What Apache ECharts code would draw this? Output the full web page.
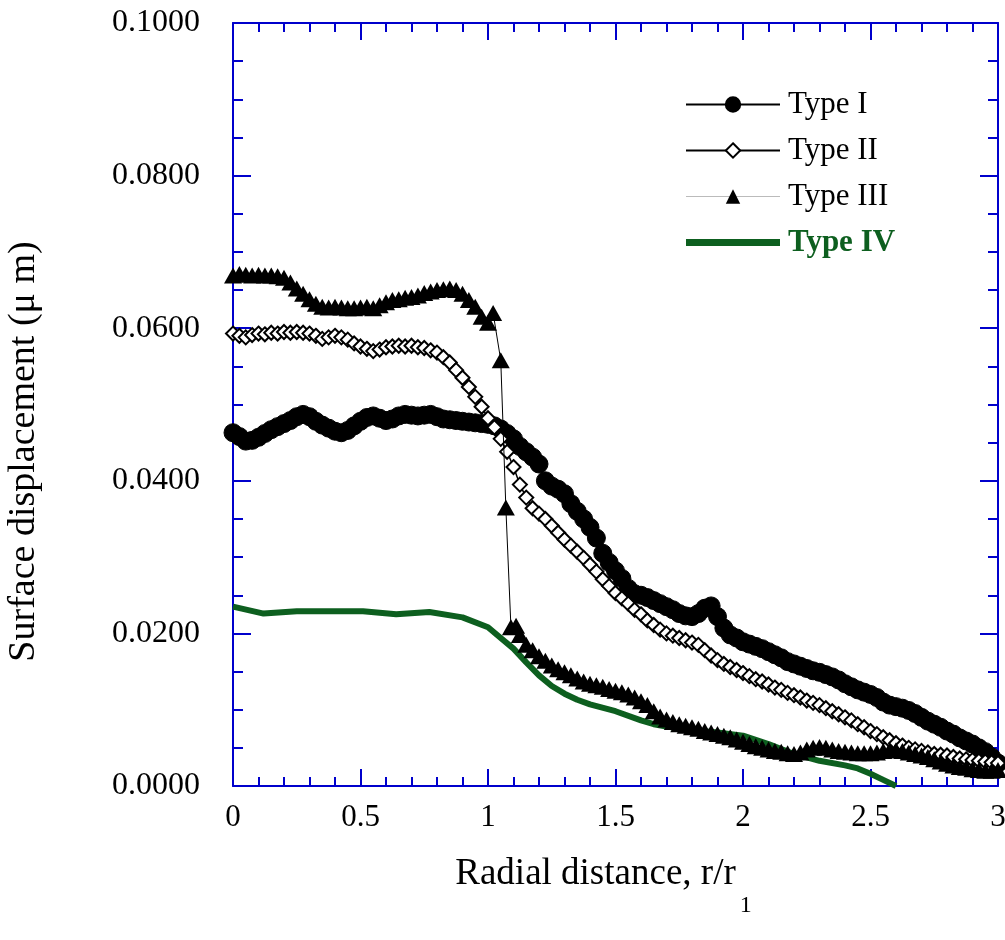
<!DOCTYPE html>
<html><head><meta charset="utf-8">
<script src="https://cdn.jsdelivr.net/npm/echarts@6/dist/echarts.min.js"></script>
<style>html,body{margin:0;padding:0;background:#fff}#c{width:1005px;height:940px}</style>
</head><body><div id="c"></div>
<script>
// x positions (r/r1) for Type I and Type II
const xGrid = [0,0.025,0.05,0.075,0.1,0.125,0.15,0.175,0.2,0.225,0.25,0.275,0.3,0.325,0.35,0.375,0.4,0.425,0.45,0.475,
0.5,0.525,0.55,0.575,0.6,0.625,0.65,0.675,0.7,0.725,0.75,0.775,0.8,0.825,0.85,0.875,0.9,0.925,0.95,0.975,
1.0,1.025,1.05,1.075,1.1,1.125,1.15,1.175,1.2,1.225,1.25,1.275,1.3,1.325,1.35,1.375,1.4,1.425,1.45,1.475,
1.5,1.525,1.55,1.575,1.6,1.625,1.65,1.675,1.7,1.725,1.75,1.775,1.8,1.825,1.85,1.875,1.9,1.925,1.95,1.975,
2.0,2.025,2.05,2.075,2.1,2.125,2.15,2.175,2.2,2.225,2.25,2.275,2.3,2.325,2.35,2.375,2.4,2.425,2.45,2.475,
2.5,2.525,2.55,2.575,2.6,2.625,2.65,2.675,2.7,2.725,2.75,2.775,2.8,2.825,2.85,2.875,2.9,2.925,2.95,2.975,3.0];

const typeI = [0.0463,0.0458,0.0452,0.0453,0.0457,0.0462,0.0467,0.0471,0.0475,0.0479,0.0484,0.0487,0.0484,0.0478,0.0473,0.0469,0.0465,0.0463,0.0466,0.0472,
0.0478,0.0483,0.0485,0.0482,0.0479,0.0481,0.0485,0.0487,0.0486,0.0485,0.0486,0.0487,0.0484,0.0481,0.0480,0.0479,0.0478,0.0477,0.0476,0.0475,
0.0474,0.0472,0.0468,0.0462,0.0455,0.0445,0.0438,0.0431,0.0422,0.0400,0.0393,0.0389,0.0383,0.0370,0.0360,0.0350,0.0339,0.0325,0.0305,0.0293,
0.0282,0.0272,0.0259,0.0252,0.0250,0.0247,0.0243,0.0239,0.0235,0.0231,0.0226,0.0223,0.0222,0.0226,0.0233,0.0236,0.0222,0.0207,0.0198,0.0194,
0.0189,0.0186,0.0183,0.0180,0.0176,0.0172,0.0168,0.0163,0.0160,0.0157,0.0154,0.0151,0.0149,0.0146,0.0143,0.0139,0.0134,0.0130,0.0126,0.0123,
0.0120,0.0116,0.0110,0.0106,0.0104,0.0102,0.0099,0.0095,0.0090,0.0085,0.0081,0.0077,0.0072,0.0068,0.0063,0.0059,0.0055,0.0050,0.0045,0.0038,0.0030];

const typeII = [0.0593,0.0590,0.0588,0.0591,0.0593,0.0592,0.0594,0.0593,0.0595,0.0594,0.0595,0.0594,0.0593,0.0590,0.0586,0.0588,0.0590,0.0588,0.0585,0.0580,
0.0576,0.0573,0.0570,0.0572,0.0575,0.0576,0.0577,0.0576,0.0577,0.0575,0.0574,0.0571,0.0568,0.0562,0.0555,0.0545,0.0535,0.0523,0.0510,0.0497,
0.0482,0.0470,0.0455,0.0438,0.0418,0.0395,0.0378,0.0364,0.0357,0.0350,0.0341,0.0332,0.0323,0.0315,0.0307,0.0299,0.0290,0.0281,0.0271,0.0262,
0.0253,0.0246,0.0239,0.0231,0.0225,0.0217,0.0211,0.0205,0.0200,0.0197,0.0194,0.0191,0.0188,0.0185,0.0178,0.0171,0.0165,0.0160,0.0156,0.0152,
0.0148,0.0144,0.0140,0.0137,0.0133,0.0129,0.0126,0.0122,0.0119,0.0116,0.0112,0.0109,0.0106,0.0102,0.0098,0.0094,0.0090,0.0086,0.0081,0.0077,
0.0072,0.0068,0.0064,0.0060,0.0056,0.0053,0.0050,0.0048,0.0046,0.0044,0.0042,0.0041,0.0040,0.0038,0.0036,0.0035,0.0034,0.0033,0.0032,0.0031,0.0030];

const xIII = [0,0.025,0.05,0.075,0.1,0.125,0.15,0.175,0.2,0.225,0.25,0.275,0.3,0.325,0.35,0.375,0.4,0.425,0.45,0.475,
0.5,0.525,0.55,0.575,0.6,0.625,0.65,0.675,0.7,0.725,0.75,0.775,0.8,0.825,0.85,0.875,0.9,0.925,0.95,0.975,
1.0,1.02,1.05,1.07,1.09,1.11,1.125,
1.15,1.175,1.2,1.225,1.25,1.275,1.3,1.325,1.35,1.375,1.4,1.425,1.45,1.475,1.5,
1.525,1.55,1.575,1.6,1.625,1.65,1.675,1.7,1.725,1.75,1.775,1.8,1.825,1.85,1.875,1.9,1.925,1.95,1.975,2.0,
2.025,2.05,2.075,2.1,2.125,2.15,2.175,2.2,2.225,2.25,2.275,2.3,2.325,2.35,2.375,2.4,2.425,2.45,2.475,2.5,
2.525,2.55,2.575,2.6,2.625,2.65,2.675,2.7,2.725,2.75,2.775,2.8,2.825,2.85,2.875,2.9,2.925,2.95,2.975,3.0];
const typeIII = [0.0669,0.0671,0.0670,0.0669,0.0670,0.0669,0.0669,0.0668,0.0666,0.0660,0.0652,0.0645,0.0638,0.0632,0.0628,0.0627,0.0628,0.0627,0.0626,0.0626,
0.0627,0.0628,0.0626,0.0630,0.0634,0.0637,0.0638,0.0640,0.0641,0.0643,0.0646,0.0648,0.0650,0.0651,0.0652,0.0650,0.0645,0.0637,0.0628,0.0615,
0.0607,0.0620,0.0558,0.0365,0.0208,0.0210,0.0198,
0.0185,0.0178,0.0170,0.0164,0.0158,0.0153,0.0149,0.0145,0.0141,0.0137,0.0134,0.0132,0.0130,0.0127,0.0125,
0.0123,0.0120,0.0116,0.0111,0.0106,0.0098,0.0091,0.0087,0.0084,0.0081,0.0079,0.0077,0.0075,0.0072,0.0070,0.0068,0.0066,0.0064,0.0061,0.0058,
0.0055,0.0052,0.0050,0.0048,0.0046,0.0045,0.0043,0.0042,0.0044,0.0048,0.0050,0.0051,0.0050,0.0048,0.0046,0.0045,0.0044,0.0043,0.0043,0.0043,
0.0044,0.0046,0.0047,0.0047,0.0046,0.0044,0.0042,0.0040,0.0038,0.0035,0.0032,0.0029,0.0027,0.0025,0.0024,0.0022,0.0021,0.0020,0.0020,0.0021];

const xIV = [0,0.12,0.25,0.38,0.51,0.64,0.77,0.9,1.0,1.05,1.1,1.15,1.2,1.25,1.3,1.35,1.4,1.5,1.6,1.65,1.7,1.8,1.9,2.0,2.1,2.2,2.3,2.4,2.45,2.5,2.55,2.6];
const typeIV = [0.0235,0.0226,0.0229,0.0229,0.0229,0.0225,0.0228,0.0221,0.0208,0.0194,0.0180,0.0162,0.0145,0.0131,0.0121,0.0113,0.0107,0.0098,0.0086,0.0081,0.0078,0.0073,0.0070,0.0066,0.0055,0.0042,0.0033,0.0027,0.0023,0.0016,0.0008,0.0];

const seriesNames = ['Type I','Type II','Type III','Type IV'];

const AX = '#0000cc';
const GREEN = '#0d5f1f';
const FONT = '"Liberation Serif","Times New Roman",serif';
const pair = (xs, ys) => xs.map((x, i) => [x, ys[i]]);

const xCommon = {
  type: 'value', min: 0, max: 3, interval: 0.5,
  axisLine: {show: true, onZero: false, lineStyle: {color: AX, width: 2}},
  axisTick: {show: true, inside: true, length: 17, lineStyle: {color: AX, width: 2}},
  minorTick: {show: true, splitNumber: 5, length: 9, lineStyle: {color: AX, width: 2}},
  splitLine: {show: false}
};
const yCommon = {
  type: 'value', min: 0, max: 0.1, interval: 0.02,
  axisLine: {show: true, onZero: false, lineStyle: {color: AX, width: 2}},
  axisTick: {show: true, inside: true, length: 18, lineStyle: {color: AX, width: 2}},
  minorTick: {show: true, splitNumber: 4, length: 10, lineStyle: {color: AX, width: 2}},
  splitLine: {show: false}
};

const chart = echarts.init(document.getElementById('c'), null, {renderer: 'canvas'});
chart.setOption({
  animation: false,
  backgroundColor: '#fff',
  grid: {left: 233, right: 7, top: 23, bottom: 154, containLabel: false, outerBoundsMode: 'none'},
  legend: {
    orient: 'vertical', left: 680, top: 84,
    itemWidth: 94, itemHeight: 18, itemGap: 15,
    textStyle: {fontFamily: FONT, fontSize: 31, color: '#000', lineHeight: 30, padding: [0, 0, 0, 3]},
    data: [
      {name: seriesNames[0]},
      {name: seriesNames[1]},
      {name: seriesNames[2], lineStyle: {color: '#bbbbbb', width: 1}},
      {name: seriesNames[3], icon: 'path://M0,0L94,0L94,7L0,7Z', itemStyle: {color: GREEN},
       textStyle: {color: GREEN, fontWeight: 'bold'}}
    ]
  },
  xAxis: [
    Object.assign({}, xCommon, {
      position: 'bottom',
      axisLabel: {show: true, margin: 16, color: '#000', fontFamily: FONT, fontSize: 31},
      name: '{a|Radial distance, r/r}{s|1}',
      nameLocation: 'middle', nameGap: 70,
      nameTextStyle: {
        color: '#000', fontFamily: FONT, fontSize: 37, padding: [0, 24, 0, 0],
        rich: {
          a: {fontFamily: FONT, fontSize: 37, color: '#000', lineHeight: 40, verticalAlign: 'top'},
          s: {fontFamily: FONT, fontSize: 24, color: '#000', lineHeight: 28, verticalAlign: 'top', padding: [38, 0, 0, 4]}
        }
      }
    }),
    Object.assign({}, xCommon, {position: 'top', axisLabel: {show: false}})
  ],
  yAxis: [
    Object.assign({}, yCommon, {
      position: 'left',
      axisLabel: {show: true, margin: 33, color: '#000', fontFamily: FONT, fontSize: 32,
        formatter: v => v.toFixed(4)},
      name: 'Surface displacement (\u03bc m)',
      nameLocation: 'middle', nameRotate: 90, nameGap: 190,
      nameTextStyle: {color: '#000', fontFamily: FONT, fontSize: 38, padding: [0, 94, 0, 0]}
    }),
    Object.assign({}, yCommon, {position: 'right', axisLabel: {show: false}})
  ],
  series: [
    {
      name: seriesNames[3], type: 'line', data: pair(xIV, typeIV), z: 1,
      symbol: 'none', itemStyle: {color: GREEN}, lineStyle: {color: GREEN, width: 6}, silent: true
    },
    {
      name: seriesNames[0], type: 'line', data: pair(xGrid, typeI), z: 2,
      symbol: 'circle', symbolSize: 18,
      itemStyle: {color: '#000', borderColor: '#000', borderWidth: 1},
      lineStyle: {color: '#000', width: 2}, silent: true
    },
    {
      name: seriesNames[1], type: 'line', data: pair(xGrid, typeII), z: 3,
      symbol: 'diamond', symbolSize: 14,
      itemStyle: {color: '#fff', borderColor: '#000', borderWidth: 2},
      lineStyle: {color: '#000', width: 1.5}, silent: true
    },
    {
      name: seriesNames[2], type: 'line', data: pair(xIII, typeIII), z: 4,
      symbol: 'triangle', symbolSize: [18, 16],
      itemStyle: {color: '#000'},
      lineStyle: {color: '#000', width: 1}, silent: true
    }
  ]
});
</script>
</body></html>
